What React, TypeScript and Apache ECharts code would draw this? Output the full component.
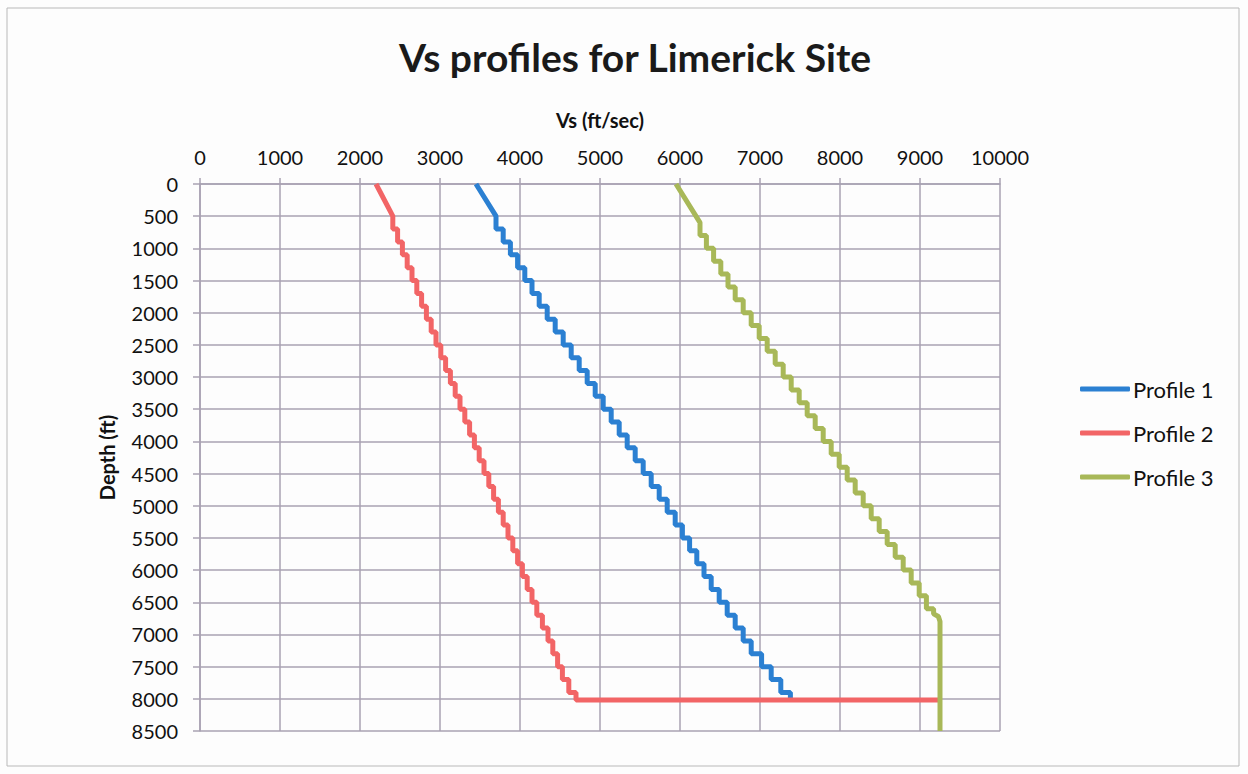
import React, { useEffect, useRef } from "react";
import * as echarts from "echarts";

// ---- Data ----
const vsTicks = [0, 1000, 2000, 3000, 4000, 5000, 6000, 7000, 8000, 9000, 10000];
const depthTicks = [0, 500, 1000, 1500, 2000, 2500, 3000, 3500, 4000, 4500, 5000, 5500, 6000, 6500, 7000, 7500, 8000, 8500];

const seriesNames = ["Profile 1", "Profile 2", "Profile 3"];

// Profile 1: head (smooth top), layered part (layer top depth, Vs), bottom of last layer
const p1HeadVs = [3450];
const p1HeadDepth = [0];
const p1Top = [500, 700, 900, 1100, 1300, 1500, 1700, 1900, 2100, 2300, 2500, 2700, 2900, 3100, 3300, 3500, 3700, 3900, 4100, 4300, 4500, 4700, 4900, 5100, 5300, 5500, 5700, 5900, 6100, 6300, 6500, 6700, 6900, 7100, 7300, 7500, 7700, 7900];
const p1Vs = [3700, 3790, 3880, 3970, 4060, 4150, 4240, 4340, 4440, 4540, 4640, 4740, 4840, 4940, 5040, 5140, 5240, 5340, 5440, 5540, 5640, 5740, 5840, 5940, 6030, 6120, 6210, 6300, 6390, 6490, 6590, 6690, 6790, 6890, 7020, 7140, 7260, 7380];
const p1Bottom = 8010;
const p1TailVs: number[] = [];
const p1TailDepth: number[] = [];

// Profile 2
const p2HeadVs = [2200];
const p2HeadDepth = [0];
const p2Top = [500, 700, 900, 1100, 1300, 1500, 1700, 1900, 2100, 2300, 2500, 2700, 2900, 3100, 3300, 3500, 3700, 3900, 4100, 4300, 4500, 4700, 4900, 5100, 5300, 5500, 5700, 5900, 6100, 6300, 6500, 6700, 6900, 7100, 7300, 7500, 7700, 7900];
const p2Vs = [2410, 2470, 2530, 2590, 2650, 2710, 2770, 2830, 2890, 2950, 3010, 3070, 3130, 3190, 3250, 3310, 3370, 3430, 3490, 3550, 3610, 3670, 3730, 3790, 3850, 3910, 3970, 4030, 4090, 4150, 4210, 4280, 4350, 4410, 4470, 4530, 4610, 4700];
const p2Bottom = 8020;
const p2TailVs = [9250];
const p2TailDepth = [8020];

// Profile 3
const p3HeadVs = [5950];
const p3HeadDepth = [0];
const p3Top = [600, 800, 1000, 1200, 1400, 1600, 1800, 2000, 2200, 2400, 2600, 2800, 3000, 3200, 3400, 3600, 3800, 4000, 4200, 4400, 4600, 4800, 5000, 5200, 5400, 5600, 5800, 6000, 6200, 6400, 6600];
const p3Vs = [6250, 6330, 6420, 6510, 6600, 6690, 6790, 6890, 6990, 7090, 7190, 7290, 7390, 7490, 7590, 7690, 7790, 7890, 7990, 8090, 8190, 8290, 8390, 8490, 8590, 8690, 8790, 8890, 8990, 9080, 9170];
const p3Bottom = 6680;
const p3TailVs = [9230, 9250, 9250];
const p3TailDepth = [6720, 6800, 8500];

const colors = ["#2b80d2", "#f26566", "#a8b858"];

function buildPoints(
  headVs: number[], headDepth: number[],
  tops: number[], vs: number[], bottom: number,
  tailVs: number[], tailDepth: number[]
): number[][] {
  const pts: number[][] = [];
  headVs.forEach((v, i) => pts.push([v, headDepth[i]]));
  tops.forEach((t, i) => {
    const next = i + 1 < tops.length ? tops[i + 1] : bottom;
    pts.push([vs[i], t]);
    pts.push([vs[i], next]);
  });
  tailVs.forEach((v, i) => pts.push([v, tailDepth[i]]));
  return pts;
}

export default function App() {
  const ref = useRef<HTMLDivElement>(null);

  useEffect(() => {
    if (!ref.current) return;
    const chart = echarts.init(ref.current, undefined, { renderer: "svg" });
    const font = "Lato";
    const gridColor = "#a8a2b2";
    const data = [
      buildPoints(p1HeadVs, p1HeadDepth, p1Top, p1Vs, p1Bottom, p1TailVs, p1TailDepth),
      buildPoints(p2HeadVs, p2HeadDepth, p2Top, p2Vs, p2Bottom, p2TailVs, p2TailDepth),
      buildPoints(p3HeadVs, p3HeadDepth, p3Top, p3Vs, p3Bottom, p3TailVs, p3TailDepth),
    ];
    chart.setOption({
      animation: false,
      backgroundColor: "#fdfdfd",
      title: {
        text: "Vs profiles for Limerick Site",
        left: 630,
        textAlign: "center",
        top: 32,
        textStyle: { fontFamily: font, fontSize: 39, fontWeight: "bold", color: "#1a1a1a" },
      },
      graphic: [
        {
          type: "rect",
          shape: { x: 7, y: 8, width: 1232, height: 758 },
          style: { fill: "none", stroke: "#b9b9b9", lineWidth: 1 },
          silent: true,
        },
      ],
      legend: {
        data: seriesNames,
        orient: "vertical",
        left: 1075,
        top: 373,
        icon: "roundRect",
        itemWidth: 50,
        itemHeight: 5,
        itemGap: 22,
        textStyle: { fontFamily: font, fontSize: 22, color: "#111", padding: [0, 0, 0, -2] },
      },
      grid: { left: 200, top: 184, width: 800, height: 547 },
      xAxis: {
        type: "value",
        position: "top",
        min: vsTicks[0],
        max: vsTicks[vsTicks.length - 1],
        interval: vsTicks[1] - vsTicks[0],
        name: "Vs (ft/sec)",
        nameLocation: "middle",
        nameGap: 54,
        nameTextStyle: { fontFamily: font, fontSize: 20, fontWeight: "bold", color: "#111" },
        axisLine: { show: true, lineStyle: { color: gridColor, width: 1.5 } },
        axisTick: { show: true, length: 6, lineStyle: { color: gridColor, width: 1.5 } },
        axisLabel: {
          fontFamily: font, fontSize: 20, color: "#111", margin: 17,
          formatter: (v: number) => String(v),
        },
        splitLine: { show: true, lineStyle: { color: gridColor, width: 1.5 } },
      },
      yAxis: {
        type: "value",
        inverse: true,
        min: depthTicks[0],
        max: depthTicks[depthTicks.length - 1],
        interval: depthTicks[1] - depthTicks[0],
        name: "Depth (ft)",
        nameLocation: "middle",
        nameGap: 83,
        nameTextStyle: { fontFamily: font, fontSize: 20, fontWeight: "bold", color: "#111" },
        axisLine: { show: true, lineStyle: { color: gridColor, width: 1.5 } },
        axisTick: { show: true, length: 7, lineStyle: { color: gridColor, width: 1.5 } },
        axisLabel: {
          fontFamily: font, fontSize: 20, color: "#111", margin: 22,
          formatter: (v: number) => String(v),
        },
        splitLine: { show: true, lineStyle: { color: gridColor, width: 1.5 } },
      },
      series: seriesNames.map((name, i) => ({
        name,
        type: "line",
        data: data[i],
        symbol: "none",
        showSymbol: false,
        color: colors[i],
        lineStyle: { color: colors[i], width: 5 },
      })),
    });
    return () => chart.dispose();
  }, []);

  return (
    <div
      ref={ref}
      style={{ position: "fixed", left: 0, top: 0, width: 1248, height: 774 }}
    />
  );
}
